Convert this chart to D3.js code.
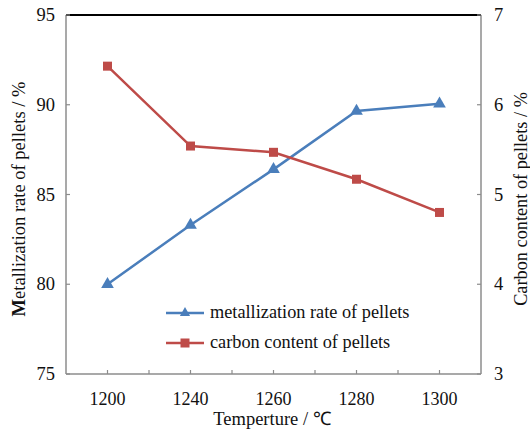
<!DOCTYPE html>
<html lang="en">
<head>
  <meta charset="UTF-8" />
  <title>Metallization and carbon content</title>
  <script src="https://d3js.org/d3.v7.min.js"></script>
  <style>
    body { margin: 0; padding: 0; background: #fff; }
  </style>
</head>
<body>
  <svg width="530" height="429"></svg>
  <script>
    const temps = ["1200", "1240", "1260", "1280", "1300"];
    const metallization = [80.0, 83.3, 86.4, 89.65, 90.05];
    const carbon = [6.43, 5.54, 5.47, 5.17, 4.80];
    const leftTicks = [75, 80, 85, 90, 95];
    const rightTicks = [3, 4, 5, 6, 7];

    const svg = d3.select("svg")
      .attr("font-family", "'Liberation Serif', 'Times New Roman', serif")
      .style("font-family", "'Liberation Serif', 'Times New Roman', serif");
    const plot = { left: 66, right: 481, top: 15, bottom: 374 };
    const blue = "#4a7ebb";
    const red = "#be4b48";
    const axisGrey = "#8c8c8c";
    const ink = "#111";

    const x = d3.scaleBand().domain(temps).range([plot.left, plot.right]);
    const yL = d3.scaleLinear().domain([75, 95]).range([plot.bottom, plot.top]);
    const yR = d3.scaleLinear().domain([3, 7]).range([plot.bottom, plot.top]);
    const cx = d => x(d) + x.bandwidth() / 2;

    // frame: grey left/right/bottom, black top
    svg.append("line").attr("x1", plot.left).attr("x2", plot.left)
      .attr("y1", plot.top).attr("y2", plot.bottom)
      .attr("stroke", axisGrey).attr("stroke-width", 1.5);
    svg.append("line").attr("x1", plot.right).attr("x2", plot.right)
      .attr("y1", plot.top).attr("y2", plot.bottom)
      .attr("stroke", axisGrey).attr("stroke-width", 1.5);
    svg.append("line").attr("x1", plot.left).attr("x2", plot.right)
      .attr("y1", plot.bottom).attr("y2", plot.bottom)
      .attr("stroke", axisGrey).attr("stroke-width", 1.5);
    svg.append("line").attr("x1", plot.left).attr("x2", plot.right)
      .attr("y1", plot.top).attr("y2", plot.top)
      .attr("stroke", "#000").attr("stroke-width", 2);

    // x ticks: at category centres and band boundaries, pointing inward
    const xTickPos = temps.map(cx).concat(temps.slice(1).map(d => x(d)));
    svg.selectAll(".xtick").data(xTickPos).join("line")
      .attr("x1", d => d).attr("x2", d => d)
      .attr("y1", plot.bottom).attr("y2", plot.bottom - 4)
      .attr("stroke", axisGrey).attr("stroke-width", 1.2);
    svg.selectAll(".xlab").data(temps).join("text")
      .attr("font-size", 18).attr("fill", ink)
      .attr("x", cx).attr("y", 405)
      .attr("text-anchor", "middle")
      .text(d => d);

    // left ticks
    svg.selectAll(".ltick").data(leftTicks).join("line")
      .attr("x1", plot.left).attr("x2", plot.left + 4)
      .attr("y1", d => yL(d)).attr("y2", d => yL(d))
      .attr("stroke", axisGrey).attr("stroke-width", 1.2);
    svg.selectAll(".llab").data(leftTicks).join("text")
      .attr("font-size", 18.5).attr("fill", ink)
      .attr("x", 55).attr("y", d => yL(d) + 6)
      .attr("text-anchor", "end")
      .text(d => d);

    // right ticks
    svg.selectAll(".rtick").data(rightTicks).join("line")
      .attr("x1", plot.right - 4).attr("x2", plot.right)
      .attr("y1", d => yR(d)).attr("y2", d => yR(d))
      .attr("stroke", axisGrey).attr("stroke-width", 1.2);
    svg.selectAll(".rlab").data(rightTicks).join("text")
      .attr("font-size", 18.5).attr("fill", ink)
      .attr("x", 494).attr("y", d => yR(d) + 6)
      .attr("text-anchor", "start")
      .text(d => d);

    // axis titles
    svg.append("text").attr("font-size", 18.5).attr("fill", ink)
      .attr("x", 272).attr("y", 425)
      .attr("text-anchor", "middle")
      .text("Temperture / ℃");
    const leftTitle = svg.append("text").attr("font-size", 18.5).attr("fill", ink)
      .attr("transform", "translate(25,199) rotate(-90)")
      .attr("text-anchor", "middle");
    leftTitle.append("tspan").attr("font-weight", "bold").text("M");
    leftTitle.append("tspan").text("etallization rate of pellets / %");
    svg.append("text").attr("font-size", 18.3).attr("fill", ink)
      .attr("transform", "translate(527,199) rotate(-90)")
      .attr("text-anchor", "middle")
      .text("Carbon content of pellets / %");

    // series
    const lineL = d3.line().x((d, i) => cx(temps[i])).y(d => yL(d));
    const lineR = d3.line().x((d, i) => cx(temps[i])).y(d => yR(d));

    svg.append("path").attr("d", lineL(metallization))
      .attr("fill", "none").attr("stroke", blue).attr("stroke-width", 2.5);
    svg.append("path").attr("d", lineR(carbon))
      .attr("fill", "none").attr("stroke", red).attr("stroke-width", 2.5);

    const tri = d3.symbol().type(d3.symbolTriangle).size(70);
    svg.selectAll(".tri").data(metallization).join("path")
      .attr("d", tri)
      .attr("transform", (d, i) => `translate(${cx(temps[i])},${yL(d)})`)
      .attr("fill", blue);
    svg.selectAll(".sq").data(carbon).join("rect")
      .attr("x", (d, i) => cx(temps[i]) - 4.5)
      .attr("y", d => yR(d) - 4.5)
      .attr("width", 9).attr("height", 9)
      .attr("fill", red);

    // legend
    const legend = [
      { name: "metallization rate of pellets", color: blue, shape: "tri", y: 313 },
      { name: "carbon content of pellets", color: red, shape: "sq", y: 343 }
    ];
    legend.forEach(l => {
      svg.append("line").attr("x1", 166).attr("x2", 204)
        .attr("y1", l.y).attr("y2", l.y)
        .attr("stroke", l.color).attr("stroke-width", 2.5);
      if (l.shape === "tri") {
        svg.append("path").attr("d", d3.symbol().type(d3.symbolTriangle).size(45))
          .attr("transform", `translate(185,${l.y})`).attr("fill", l.color);
      } else {
        svg.append("rect").attr("x", 180.5).attr("y", l.y - 4.5)
          .attr("width", 9).attr("height", 9).attr("fill", l.color);
      }
      svg.append("text").attr("font-size", 18.3).attr("fill", ink)
        .attr("x", 210).attr("y", l.y + 5)
        .text(l.name);
    });
  </script>
</body>
</html>
